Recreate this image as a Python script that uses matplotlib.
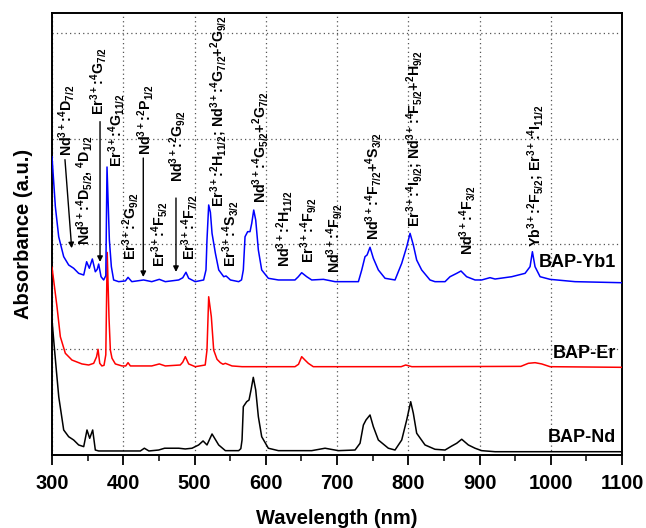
import numpy as np
import matplotlib.pyplot as plt
from matplotlib.ticker import MultipleLocator

# --- spectra (wavelength nm, absorbance a.u. incl. offset) ---
nd_wl = [300, 303, 306, 309.5, 316.4, 323.4, 330.4, 337.4, 344.5, 349.1, 352.9, 357.1,
         360.8, 365.5, 424, 429.6, 436, 449.7, 458, 478, 487, 496.5, 505.8, 512, 517.5,
         524.6, 533.9, 543.3, 562, 565, 566.7, 568.5, 573.2, 576.5, 579.3, 582.5, 585.9,
         589.6, 594.3, 603.6, 617.7, 664.5, 683.2, 702, 725.3, 732.3, 737, 740.7, 746.3,
         751, 758, 772, 781.4, 790.8, 797.8, 803.4, 807.1, 811.8, 823.5, 837.5, 851.6,
         861, 868, 875, 884.3, 893.7, 903, 921.8, 1100]
nd_abs = [1.28, 1.04, 0.81, 0.55, 0.237, 0.173, 0.142, 0.095, 0.079, 0.237, 0.158, 0.237,
          0.047, 0.038, 0.038, 0.064, 0.038, 0.047, 0.064, 0.064, 0.057, 0.064, 0.095, 0.133, 0.095,
          0.199, 0.095, 0.041, 0.041, 0.06, 0.142, 0.458, 0.505, 0.521, 0.616, 0.736, 0.616,
          0.363, 0.173, 0.064, 0.041, 0.041, 0.064, 0.041, 0.047, 0.111, 0.284, 0.332, 0.379,
          0.268, 0.142, 0.064, 0.047, 0.142, 0.332, 0.505, 0.395, 0.206, 0.095, 0.054, 0.047,
          0.085, 0.111, 0.149, 0.095, 0.064, 0.041, 0.031, 0.031]

er_wl = [300, 307, 311.7, 318.7, 328, 342, 351.5, 358.5, 362.5, 364.6, 367, 370, 373, 375.5,
         377.5, 380, 381.9, 384.2, 388.9, 398.2, 403.5, 406.7, 410, 440, 450.6, 459, 480,
         483.5, 487.1, 491.8, 501, 515, 517.5, 519.9, 523.6, 526.9, 531.6, 536.3, 540, 543.3,
         552.6, 566.7, 641, 646, 650.4, 655, 659.7, 666.7, 790, 796.4, 805, 958, 968.5,
         977.9, 987.3, 999, 1100]
er_abs = [1.78, 1.406, 1.121, 0.964, 0.9, 0.863, 0.853, 0.869, 0.93, 1.002, 0.869, 0.844, 0.85, 0.95,
          1.92, 1.3, 0.995, 0.917, 0.863, 0.844, 0.844, 0.875, 0.844, 0.844, 0.863, 0.844, 0.853,
          0.88, 0.932, 0.863, 0.837, 0.853, 0.995, 1.5, 1.311, 0.995, 0.907, 0.875, 0.86, 0.869,
          0.844, 0.837, 0.837, 0.86, 0.932, 0.9, 0.869, 0.837, 0.837, 0.853, 0.837, 0.84, 0.869,
          0.875, 0.863, 0.837, 0.831]

yb_wl = [300, 304.7, 309.4, 316.4, 323.4, 330.4, 337.4, 344.5, 348.6, 352.4, 356.6, 360.8,
         363.5, 365.5, 368.8, 372.5, 375.5, 377.2, 380.5, 383.3, 386.5, 393.6, 403, 406.7, 412,
         428.6, 440, 450.6, 459, 477.8, 483.5, 488, 491.8, 501, 512.8, 516.1, 517.5, 519.9,
         522.3, 524.6, 529.3, 534, 541, 544.3, 550.4, 562, 566, 568.5, 570.9, 574.6, 577.9,
         580.3, 583.1, 585.9, 589.6, 594.3, 603.6, 617.7, 641, 645.7, 650.4, 657.5, 664.5,
         680.9, 697.3, 730, 734.7, 739.3, 742.2, 746.3, 751, 758, 767.4, 781.4, 790.8, 797.8,
         802.5, 807.1, 811.8, 818.8, 830.5, 837.5, 851.6, 858.6, 868, 874, 881.9, 893.7, 903,
         914.7, 921.8, 945.2, 963.9, 970.9, 974.2, 977.9, 985, 999, 1034, 1100]
yb_abs = [2.827, 2.354, 2.069, 1.88, 1.801, 1.77, 1.722, 1.706, 1.832, 1.77, 1.858, 1.737,
          1.76, 1.81, 1.69, 1.659, 1.7, 2.73, 2.038, 1.785, 1.659, 1.643, 1.65, 1.684, 1.643,
          1.659, 1.643, 1.665, 1.643, 1.659, 1.68, 1.732, 1.675, 1.643, 1.659, 1.754, 2.038, 2.37,
          2.3, 2.101, 1.912, 1.754, 1.69, 1.697, 1.659, 1.643, 1.66, 1.754, 2.069, 2.117, 2.117,
          2.196, 2.322, 2.227, 1.943, 1.754, 1.675, 1.659, 1.659, 1.69, 1.728, 1.69, 1.659,
          1.665, 1.643, 1.643, 1.754, 1.88, 1.896, 1.969, 1.864, 1.754, 1.675, 1.659, 1.817, 1.974,
          2.101, 1.991, 1.848, 1.754, 1.659, 1.643, 1.643, 1.69, 1.722, 1.744, 1.69, 1.659, 1.659,
          1.681, 1.668, 1.69, 1.722, 1.785, 1.927, 1.785, 1.69, 1.665, 1.643, 1.633]

# transition labels: (text, wavelength, bottom of label)
labels = [
    (r'Nd$^{3+}$:$^4$D$_{7/2}$', 320, 2.83),
    (r'Nd$^{3+}$:$^4$D$_{5/2}$, $^4$D$_{1/2}$', 345.6, 1.99),
    (r'Er$^{3+}$:$^4$G$_{7/2}$', 365.3, 3.22),
    (r'Er$^{3+}$:$^4$G$_{11/2}$', 390.8, 2.73),
    (r'Er$^{3+}$:$^2$G$_{9/2}$', 409.5, 1.85),
    (r'Nd$^{3+}$:$^2$P$_{1/2}$', 431.2, 2.84),
    (r'Er$^{3+}$:$^4$F$_{5/2}$', 450.9, 1.78),
    (r'Nd$^{3+}$:$^2$G$_{9/2}$', 476.1, 2.59),
    (r'Er$^{3+}$:$^4$F$_{7/2}$', 493.0, 1.85),
    (r'Er$^{3+}$:$^2$H$_{11/2}$; Nd$^{3+}$:$^4$G$_{7/2}$+$^2$G$_{9/2}$', 534.4, 2.35),
    (r'Er$^{3+}$:$^4$S$_{3/2}$', 550.5, 1.78),
    (r'Nd$^{3+}$:$^4$G$_{5/2}$+$^2$G$_{7/2}$', 592.0, 2.39),
    (r'Nd$^{3+}$:$^2$H$_{11/2}$', 625.6, 1.78),
    (r'Er$^{3+}$:$^4$F$_{9/2}$', 659.3, 1.82),
    (r'Nd$^{3+}$:$^4$F$_{9/2}$', 695.8, 1.725),
    (r'Nd$^{3+}$:$^4$F$_{7/2}$+$^4$S$_{3/2}$', 751.2, 2.04),
    (r'Er$^{3+}$:$^4$I$_{9/2}$; Nd$^{3+}$:$^4$F$_{5/2}$+$^2$H$_{9/2}$', 809.5, 2.16),
    (r'Nd$^{3+}$:$^4$F$_{3/2}$', 882.5, 1.90),
    (r'Yb$^{3+}$:$^2$F$_{5/2}$; Er$^{3+}$:$^4$I$_{11/2}$', 979.3, 1.97),
]

# arrows: (tail wl, tail y, head wl, head y)
arrows = [
    (318.2, 2.80, 327.6, 1.96),
    (367.4, 3.16, 367.4, 1.83),
    (428.1, 2.815, 428.1, 1.687),
    (474.0, 2.436, 474.0, 1.735),
]

series_names = ['BAP-Yb1', 'BAP-Er', 'BAP-Nd']
series_label_y = [1.82, 0.96, 0.17]

plt.rcParams['font.family'] = ['Liberation Sans', 'DejaVu Sans']
plt.rcParams['font.weight'] = 'bold'
plt.rcParams['mathtext.fontset'] = 'custom'
plt.rcParams['mathtext.rm'] = 'Liberation Sans:bold'
plt.rcParams['mathtext.bf'] = 'Liberation Sans:bold'
plt.rcParams['mathtext.default'] = 'bf'

fig = plt.figure(figsize=(6.46, 5.28), dpi=100)
ax = fig.add_axes([0.0805, 0.1383, 0.8824, 0.8371])

ax.plot(nd_wl, nd_abs, color='black', lw=1.1, zorder=3)
ax.plot(er_wl, er_abs, color='#ff0000', lw=1.1, zorder=3)
ax.plot(yb_wl, yb_abs, color='#0000ff', lw=1.1, zorder=4)

ax.set_xlim(300, 1100)
ax.set_ylim(0, 4.19)
ax.xaxis.set_major_locator(MultipleLocator(100))
ax.xaxis.set_minor_locator(MultipleLocator(50))
ax.yaxis.set_major_locator(MultipleLocator(1))
ax.grid(True, which='major', linestyle=(0, (1, 2.5)), color='#555555', lw=0.9, zorder=0)
ax.tick_params(axis='x', which='major', direction='out', length=7, width=1.3,
               labelsize=14.5, pad=7)
ax.tick_params(axis='x', which='minor', direction='out', length=4, width=1.1)
ax.tick_params(axis='y', which='both', left=False, labelleft=False)
for sp in ax.spines.values():
    sp.set_linewidth(1.4)

ax.set_xlabel('Wavelength (nm)', fontsize=14.5, fontweight='bold', labelpad=11)
ax.set_ylabel('Absorbance (a.u.)', fontsize=14.5, fontweight='bold', labelpad=14)

for txt, wl, yb in labels:
    ax.text(wl, yb, txt, rotation=90, ha='center', va='bottom', fontsize=10.2,
            fontweight='bold', zorder=5)

for x0, y0, x1, y1 in arrows:
    ax.annotate('', xy=(x1, y1), xytext=(x0, y0),
                arrowprops=dict(arrowstyle='-|>', color='black', lw=1.0,
                                mutation_scale=8, shrinkA=0, shrinkB=0), zorder=5)

for name, yy in zip(series_names, series_label_y):
    ax.text(1092, yy, name, ha='right', va='center', fontsize=13, fontweight='bold', zorder=5)

fig.savefig('out.png', dpi=100)
